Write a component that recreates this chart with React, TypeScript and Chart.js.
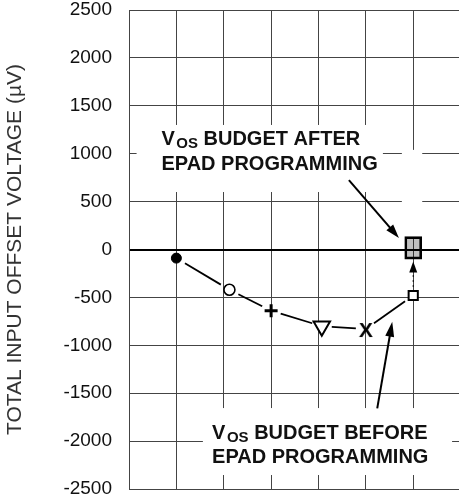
import { useEffect, useRef } from 'react';
import { Chart, registerables } from 'chart.js';

Chart.register(...registerables);

// ---- data ----
const markerX = [1, 2.12, 3, 4.07, 5, 6];
const offsetBefore = [-90, -420, -640, -800, -830, -480];
const markerStyles = ['circle', 'circle', 'cross', 'triangle', 'glyphX', 'rect'];
const markerFill = ['#000', '#fff', '#000', '#fff', '#000', '#fff'];
const markerRadius = [5, 5.5, 6.5, 9.5, 9.5, 6.5];
const markerBorder = [1, 1.6, 3, 2, 3.2, 2];
const markerRotation = [0, 0, 0, 180, 0, 0];
const budgetAfterX = [6];
const budgetAfterRange = [[-100, 135]];
const yTickValues = [2500, 2000, 1500, 1000, 500, 0, -500, -1000, -1500, -2000, -2500];
const yAxisTitle = 'TOTAL INPUT OFFSET VOLTAGE (µV)';
const afterLabel = ['BUDGET AFTER', 'EPAD PROGRAMMING'];
const beforeLabel = ['BUDGET BEFORE', 'EPAD PROGRAMMING'];

const FONT = '"Liberation Sans", Arial, Helvetica, sans-serif';

function makeGlyph(ch: string): HTMLCanvasElement {
  const c = document.createElement('canvas');
  c.width = 18;
  c.height = 18;
  const g = c.getContext('2d')!;
  g.fillStyle = '#000';
  g.font = `bold 21px ${FONT}`;
  g.textAlign = 'center';
  g.textBaseline = 'alphabetic';
  g.fillText(ch, 9, 16.5);
  return c;
}

const annotPlugin = {
  id: 'annot',
  beforeDatasetsDraw(chart: any) {
    const { ctx } = chart;
    const x = chart.scales.x;
    const y = chart.scales.y;
    const box = (x0: number, x1: number, y0: number, y1: number) => {
      const a = x.getPixelForValue(x0);
      const b = x.getPixelForValue(x1);
      const c = y.getPixelForValue(y0);
      const d = y.getPixelForValue(y1);
      ctx.fillStyle = '#fff';
      ctx.fillRect(Math.min(a, b), Math.min(c, d), Math.abs(b - a), Math.abs(d - c));
    };
    ctx.save();
    box(0.16, 5.36, 1300, 600);
    box(5.76, 6.19, 1040, 130);
    box(1.56, 6.82, -1655, -2354);

    // connecting line, broken around the markers
    const meta = chart.getDatasetMeta(0);
    const pts = meta.data;
    ctx.strokeStyle = '#000';
    ctx.lineWidth = 1.8;
    const gap = 10;
    for (let i = 0; i < pts.length - 1; i++) {
      const p = pts[i];
      const q = pts[i + 1];
      const dx = q.x - p.x;
      const dy = q.y - p.y;
      const len = Math.hypot(dx, dy);
      const ux = dx / len;
      const uy = dy / len;
      ctx.beginPath();
      ctx.moveTo(p.x + ux * gap, p.y + uy * gap);
      ctx.lineTo(q.x - ux * gap, q.y - uy * gap);
      ctx.stroke();
    }
    ctx.restore();
  },
  afterDatasetsDraw(chart: any) {
    const { ctx } = chart;
    const x = chart.scales.x;
    const y = chart.scales.y;
    ctx.save();
    ctx.textAlign = 'left';
    ctx.textBaseline = 'alphabetic';
    const label = (xv: number, y1: number, y2: number, lines: string[]) => {
      let px = x.getPixelForValue(xv);
      const px0 = px;
      const py1 = y.getPixelForValue(y1);
      const py2 = y.getPixelForValue(y2);
      ctx.fillStyle = '#111';
      ctx.font = `bold 20px ${FONT}`;
      ctx.fillText('V', px, py1);
      px += ctx.measureText('V').width + 1.5;
      ctx.font = `bold 15px ${FONT}`;
      ctx.fillText('OS', px, py1 + 3);
      px += ctx.measureText('OS').width;
      ctx.font = `bold 20px ${FONT}`;
      ctx.fillText(' ' + lines[0], px, py1);
      ctx.fillText(lines[1], px0, py2);
    };
    label(0.685, 1091, 830, afterLabel);
    label(1.754, -1981, -2232, beforeLabel);

    const arrow = (x0v: number, y0v: number, x1v: number, y1v: number, hl: number, hw: number, lw: number, dash?: number[]) => {
      const ax = x.getPixelForValue(x0v);
      const ay = y.getPixelForValue(y0v);
      const bx = x.getPixelForValue(x1v);
      const by = y.getPixelForValue(y1v);
      const dx = bx - ax;
      const dy = by - ay;
      const len = Math.hypot(dx, dy);
      const ux = dx / len;
      const uy = dy / len;
      const baseX = bx - ux * hl;
      const baseY = by - uy * hl;
      ctx.strokeStyle = '#000';
      ctx.lineWidth = lw;
      ctx.setLineDash(dash || []);
      ctx.beginPath();
      ctx.moveTo(ax, ay);
      ctx.lineTo(baseX + ux * 1, baseY + uy * 1);
      ctx.stroke();
      ctx.setLineDash([]);
      ctx.fillStyle = '#000';
      ctx.beginPath();
      ctx.moveTo(bx, by);
      ctx.lineTo(baseX - uy * hw / 2, baseY + ux * hw / 2);
      ctx.lineTo(baseX + uy * hw / 2, baseY - ux * hw / 2);
      ctx.closePath();
      ctx.fill();
    };
    arrow(4.642, 725, 5.698, 120, 14, 9, 2);
    arrow(5.24, -1658, 5.557, -754, 15, 9, 2);
    arrow(6, -440, 6, -125, 11, 8, 1.2, [1.5, 3.5]);
    ctx.restore();
  },
};

export default function App() {
  const ref = useRef<HTMLCanvasElement | null>(null);
  useEffect(() => {
    if (!ref.current) return;
    Chart.defaults.font.family = FONT;
    const xGlyph = makeGlyph('X');
    const styles = markerStyles.map((s) => (s === 'glyphX' ? xGlyph : s));
    const chart = new Chart(ref.current, {
      type: 'line',
      data: {
        datasets: [
          {
            type: 'line',
            label: 'before',
            data: markerX.map((v, i) => ({ x: v, y: offsetBefore[i] })),
            showLine: false,
            pointStyle: styles as any,
            pointRadius: markerRadius,
            pointHoverRadius: markerRadius,
            pointBorderWidth: markerBorder,
            pointBackgroundColor: markerFill,
            pointBorderColor: '#000',
            pointRotation: markerRotation,
            order: 1,
          } as any,
          {
            type: 'bar',
            label: 'after',
            data: budgetAfterX.map((v, i) => ({ x: v, y: budgetAfterRange[i] })),
            backgroundColor: 'rgba(0,0,0,0.25)',
            borderColor: '#000',
            borderWidth: 2,
            borderSkipped: false,
            barThickness: 17,
            order: 2,
          } as any,
        ],
      },
      options: {
        animation: false,
        responsive: true,
        maintainAspectRatio: false,
        layout: { padding: { top: 10, bottom: 15, left: 0, right: 9.4 } },
        plugins: { legend: { display: false }, tooltip: { enabled: false } },
        scales: {
          x: {
            type: 'linear',
            min: 0,
            max: 7,
            offset: false,
            ticks: { display: false, stepSize: 1 },
            grid: { color: '#444', lineWidth: 1, drawTicks: false, offset: false },
            border: { display: true, color: '#444', width: 1 },
            afterFit: (s: any) => {
              s.height = 0;
              s.paddingLeft = 0;
              s.paddingRight = 0;
              s.paddingTop = 0;
              s.paddingBottom = 0;
            },
          },
          y: {
            type: 'linear',
            min: -2500,
            max: 2500,
            offset: false,
            afterBuildTicks: (s: any) => { s.ticks = yTickValues.map((v) => ({ value: v })); },
            ticks: {
              padding: 17,
              color: '#111',
              font: { size: 19, family: FONT },
              callback: (v: any) => String(v),
            },
            grid: {
              drawTicks: false,
              color: (c: any) => (c.tick && c.tick.value === 0 ? '#000' : '#444'),
              lineWidth: (c: any) => (c.tick && c.tick.value === 0 ? 2 : 1),
            },
            border: { display: true, color: '#444', width: 1 },
            title: {
              display: true,
              text: yAxisTitle,
              color: '#333',
              font: { size: 21, family: FONT },
              padding: { top: 3, bottom: 0 },
            },
            afterFit: (s: any) => {
              s.width = 129;
              s.paddingTop = 0;
              s.paddingBottom = 0;
              s.paddingLeft = 0;
              s.paddingRight = 0;
            },
          },
        },
      },
      plugins: [annotPlugin],
    });
    return () => chart.destroy();
  }, []);
  return (
    <div style={{ position: 'fixed', left: 0, top: 0, width: 459, height: 504, overflow: 'hidden', background: '#fff' }}>
      <div style={{ position: 'relative', width: 470, height: 504 }}>
        <canvas ref={ref} />
      </div>
    </div>
  );
}
